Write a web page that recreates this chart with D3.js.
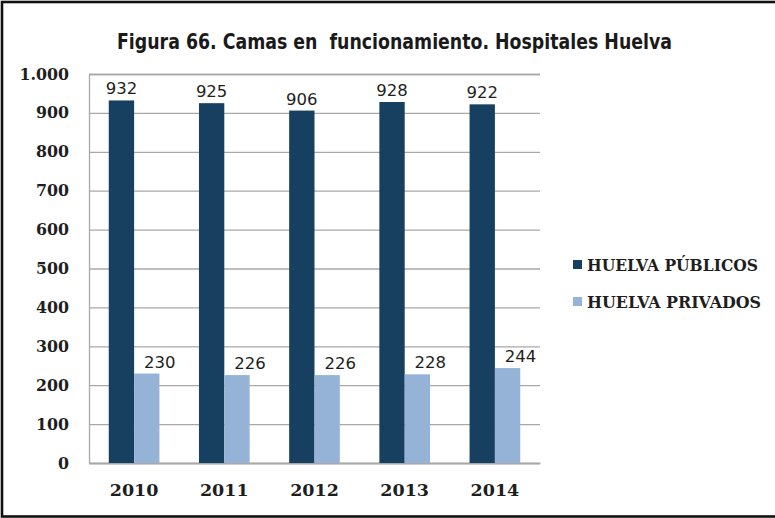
<!DOCTYPE html>
<html>
<head>
<meta charset="utf-8">
<script src="https://cdn.jsdelivr.net/npm/d3@7"></script>
<style>
  html, body { margin: 0; padding: 0; background: #fff; }
  svg { display: block; }
</style>
</head>
<body>
<svg id="chart" width="775" height="518"></svg>
<script>
// Camas en funcionamiento, hospitales de Huelva
const years = ["2010", "2011", "2012", "2013", "2014"];
const seriesNames = ["HUELVA PÚBLICOS", "HUELVA PRIVADOS"];
const publicos = [932, 925, 906, 928, 922];
const privados = [230, 226, 226, 228, 244];
const yTicks = [0, 100, 200, 300, 400, 500, 600, 700, 800, 900, 1000];
const titleText = "Figura 66. Camas en  funcionamiento. Hospitales Huelva";

const colors = ["#173f5f", "#95b3d7"];
const seriesValues = [publicos, privados];

const svg = d3.select("#chart");
const W = 775, H = 518;
const plot = { left: 89, right: 540, top: 74, bottom: 463 };

const locale = d3.formatLocale({ decimal: ",", thousands: ".", grouping: [3], currency: ["", "€"] });
const fmt = locale.format(",d");

// frame
svg.append("rect")
  .attr("x", 2).attr("y", 2)
  .attr("width", W + 10).attr("height", H - 3.5)
  .attr("fill", "none").attr("stroke", "#111").attr("stroke-width", 2.6);

// title (bold, squeezed into a condensed width)
svg.append("text")
  .attr("x", 394.5).attr("y", 49)
  .attr("text-anchor", "middle")
  .style("font-family", "'DejaVu Sans', sans-serif")
  .style("font-weight", "bold")
  .style("font-size", "20.5px")
  .style("white-space", "pre")
  .attr("fill", "#1a1a1a")
  .attr("textLength", 555)
  .attr("lengthAdjust", "spacingAndGlyphs")
  .text(titleText);

const x = d3.scaleBand().domain(years).range([plot.left, plot.right]).padding(0);
const xs = d3.scaleBand().domain(seriesNames).range([0, x.bandwidth()]).paddingInner(0).paddingOuter(0.78);
const y = d3.scaleLinear().domain([0, 1000]).range([plot.bottom, plot.top]);

// gridlines and y labels
const yAxis = d3.axisLeft(y).tickValues(yTicks).tickSize(-(plot.right - plot.left)).tickFormat(fmt).tickPadding(20);
const gy = svg.append("g").attr("transform", `translate(${plot.left},0)`).call(yAxis);
gy.select(".domain").attr("stroke", "#a8a8a8").attr("stroke-width", 1.3);
gy.selectAll(".tick line").attr("stroke", "#a8a8a8").attr("stroke-width", 1.3);
gy.selectAll(".tick text")
  .attr("fill", "#1e1e1e")
  .style("font-family", "'DejaVu Serif', serif")
  .style("font-weight", "bold")
  .style("font-size", "15.8px");

// x axis labels
const xAxis = d3.axisBottom(x).tickSize(0).tickPadding(21);
const gx = svg.append("g").attr("transform", `translate(0,${plot.bottom})`).call(xAxis);
gx.select(".domain").attr("stroke", "#a8a8a8").attr("stroke-width", 1.3);
gx.selectAll(".tick text")
  .attr("fill", "#1e1e1e")
  .style("font-family", "'DejaVu Serif', serif")
  .style("font-weight", "bold")
  .style("font-size", "17.5px");

// bars
const rows = [];
seriesNames.forEach((s, si) => {
  years.forEach((yr, i) => rows.push({ series: s, si, year: yr, value: seriesValues[si][i] }));
});

svg.append("g").selectAll("rect")
  .data(rows).join("rect")
  .attr("x", d => x(d.year) + xs(d.series))
  .attr("y", d => y(d.value))
  .attr("width", xs.bandwidth())
  .attr("height", d => y(0) - y(d.value))
  .attr("fill", d => colors[d.si]);

// value labels
svg.append("g").selectAll("text")
  .data(rows).join("text")
  .attr("x", d => x(d.year) + xs(d.series) + xs.bandwidth() / 2 + (d.si === 1 ? 13 : 0))
  .attr("y", d => y(d.value) - 6)
  .attr("text-anchor", "middle")
  .attr("fill", "#1e1e1e")
  .style("font-family", "'DejaVu Sans', sans-serif")
  .style("font-size", "16.5px")
  .text(d => fmt(d.value));

// legend
const legend = svg.append("g").attr("transform", "translate(573,0)");
const legendRows = [265, 302];
seriesNames.forEach((s, i) => {
  const g = legend.append("g").attr("transform", `translate(0,${legendRows[i]})`);
  g.append("rect").attr("x", 0).attr("y", -5).attr("width", 9).attr("height", 9).attr("fill", colors[i]);
  g.append("text")
    .attr("x", 14).attr("y", 6)
    .attr("fill", "#1e1e1e")
    .style("font-family", "'DejaVu Serif', serif")
    .style("font-weight", "bold")
    .style("font-size", "16px")
    .attr("textLength", i === 0 ? 171 : 174)
    .attr("lengthAdjust", "spacingAndGlyphs")
    .text(s);
});
</script>
</body>
</html>
